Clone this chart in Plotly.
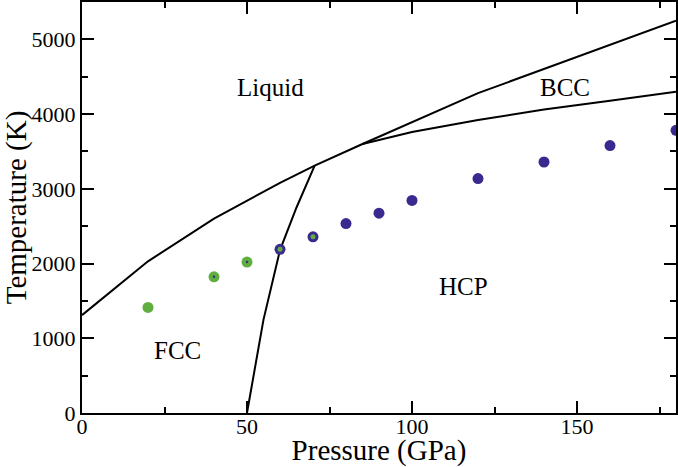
import plotly.graph_objects as go

# Phase boundaries
melt_p = [0, 20, 40, 60, 70.5, 85, 120, 180]
melt_t = [1310, 2030, 2600, 3080, 3310, 3600, 4280, 5250]

bcc_p = [85, 100, 120, 140, 160, 180]
bcc_t = [3600, 3760, 3920, 4060, 4180, 4300]

fcc_hcp_p = [50, 55, 60, 65, 70.5]
fcc_hcp_t = [0, 1250, 2180, 2750, 3310]

# Data points
fcc_p = [20, 40, 50]
fcc_t = [1413, 1822, 2020]
hcp_p = [60, 70, 80, 90, 100, 120, 140, 160, 180]
hcp_t = [2190, 2357, 2535, 2674, 2845, 3137, 3359, 3579, 3783]
mixed_green_p = [60, 70]
mixed_green_t = [2190, 2357]
mixed_blue_p = [40, 50]
mixed_blue_t = [1822, 2020]

labels = ["Liquid", "BCC", "HCP", "FCC"]
label_p = [57, 146.5, 115.5, 29]
label_t = [4360, 4360, 1690, 840]

GREEN = "#5fae3e"
BLUE = "#3a2a8f"
FONT = "Liberation Serif"

fig = go.Figure()
line = dict(color="black", width=2)
for px_, ty_ in [(melt_p, melt_t), (bcc_p, bcc_t), (fcc_hcp_p, fcc_hcp_t)]:
    fig.add_trace(go.Scatter(x=px_, y=ty_, mode="lines", line=line, showlegend=False, hoverinfo="skip"))

fig.add_trace(go.Scatter(x=fcc_p, y=fcc_t, mode="markers", cliponaxis=False,
                         marker=dict(color=GREEN, size=11, line=dict(width=0)), showlegend=False))
fig.add_trace(go.Scatter(x=hcp_p, y=hcp_t, mode="markers", cliponaxis=False,
                         marker=dict(color=BLUE, size=11, line=dict(width=0)), showlegend=False))
fig.add_trace(go.Scatter(x=mixed_green_p, y=mixed_green_t, mode="markers", cliponaxis=False,
                         marker=dict(color=GREEN, size=5, line=dict(width=0)), showlegend=False))
fig.add_trace(go.Scatter(x=mixed_blue_p, y=mixed_blue_t, mode="markers", cliponaxis=False,
                         marker=dict(color=BLUE, size=2.5, line=dict(width=0)), showlegend=False))

for txt, x, y in zip(labels, label_p, label_t):
    fig.add_annotation(x=x, y=y, text=txt, showarrow=False,
                       font=dict(family=FONT, size=25, color="black"))

axis_common = dict(
    showgrid=False, zeroline=False, showline=True, linecolor="black", linewidth=2,
    mirror="ticks", ticks="inside", ticklen=12, tickwidth=1.5, tickcolor="black",
    tickfont=dict(family=FONT, size=22, color="black"), automargin=False,
)
fig.update_xaxes(range=[0, 180], dtick=50, tick0=0, ticklabelstandoff=-7,
                 minor=dict(dtick=25, ticks="inside", ticklen=6, tickwidth=1.5, tickcolor="black"),
                 title=dict(text="Pressure (GPa)", font=dict(family=FONT, size=29, color="black"), standoff=2),
                 **axis_common)
fig.update_yaxes(range=[0, 5500], dtick=1000, tick0=0,
                 minor=dict(dtick=500, ticks="inside", ticklen=6, tickwidth=1.5, tickcolor="black"),
                 title=dict(text="Temperature (K)", font=dict(family=FONT, size=29, color="black"), standoff=4),
                 **axis_common)

fig.update_layout(width=678, height=467, margin=dict(l=82, r=2, t=2, b=54),
                  plot_bgcolor="white", paper_bgcolor="white")

fig.write_html("out.html", config={"displayModeBar": False},
               post_script="document.body.style.margin='0';document.body.style.overflow='hidden';")
